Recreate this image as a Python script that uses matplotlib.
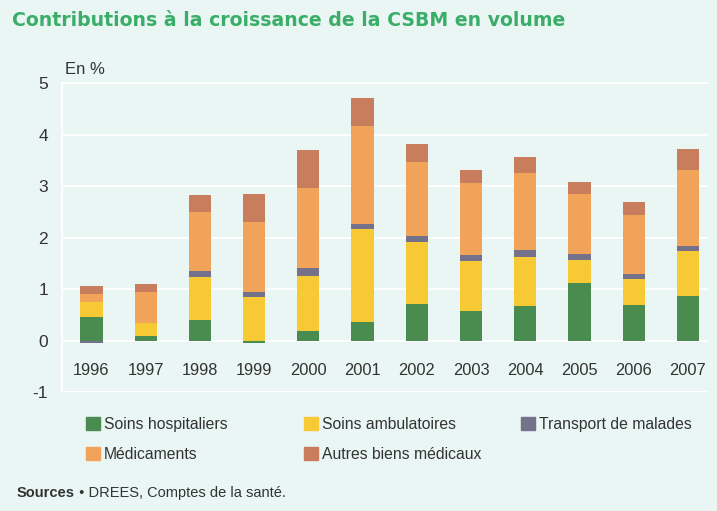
"""Contributions à la croissance de la CSBM en volume (stacked bars)."""

import matplotlib
matplotlib.use("Agg")
import matplotlib.pyplot as plt
import numpy as np
from matplotlib.patches import Patch

years = ["1996", "1997", "1998", "1999", "2000", "2001",
         "2002", "2003", "2004", "2005", "2006", "2007"]

# contributions in percentage points
hospitaliers = [0.46, 0.08, 0.39, -0.05, 0.19, 0.35, 0.71, 0.58, 0.67, 1.12, 0.68, 0.86]
ambulatoires = [0.28, 0.26, 0.84, 0.84, 1.07, 1.81, 1.20, 0.97, 0.96, 0.45, 0.51, 0.88]
transport = [-0.05, 0.00, 0.11, 0.11, 0.14, 0.11, 0.12, 0.11, 0.12, 0.10, 0.11, 0.09]
medicaments = [0.16, 0.60, 1.16, 1.35, 1.57, 1.89, 1.44, 1.40, 1.50, 1.18, 1.14, 1.49]
autres = [0.16, 0.16, 0.33, 0.54, 0.72, 0.55, 0.34, 0.26, 0.31, 0.23, 0.24, 0.39]

series = [
    ("Soins hospitaliers", hospitaliers, "#4a8b50"),
    ("Soins ambulatoires", ambulatoires, "#f6c935"),
    ("Transport de malades", transport, "#74728a"),
    ("Médicaments", medicaments, "#f2a35a"),
    ("Autres biens médicaux", autres, "#c87d5c"),
]

BG = "#e9f6f4"
TXT = "#333333"
FONT = "Liberation Sans"

fig = plt.figure(figsize=(7.17, 5.11), dpi=100, facecolor=BG)
ax = fig.add_axes([62 / 717, 119 / 511, 646 / 717, 309 / 511], facecolor=BG)

x = np.arange(len(years))
pos = np.zeros(len(years))
neg = np.zeros(len(years))
handles = {}
for label, vals, color in series:
    v = np.array(vals)
    bottom = np.where(v >= 0, pos, neg)
    ax.bar(x, v, width=0.41, bottom=bottom, color=color, zorder=3)
    pos += np.where(v >= 0, v, 0)
    neg += np.where(v < 0, v, 0)
    handles[label] = Patch(color=color)

ax.set_xlim(-0.544, 11.37)
ax.set_ylim(-1, 5)
ax.set_yticks(range(-1, 6))
ax.set_yticklabels([str(t) for t in range(-1, 6)], family=FONT,
                   fontsize=12.5, color=TXT)
ax.tick_params(axis="y", length=0, pad=10)
ax.set_xticks([])
ax.grid(axis="y", color="white", linewidth=1.4, zorder=0)
for side in ["right", "bottom"]:
    ax.spines[side].set_visible(False)
for side in ["left", "top"]:
    ax.spines[side].set_color("white")
    ax.spines[side].set_linewidth(1.4)

for xi, yr in zip(x, years):
    ax.text(xi, -0.58, yr, ha="center", va="center", family=FONT,
            fontsize=11.8, color=TXT)

ax.text(0.005, 1.045, "En %", transform=ax.transAxes, ha="left", va="center",
        family=FONT, fontsize=12, color=TXT)

fig.text(12 / 717, 1 - 20 / 511, "Contributions à la croissance de la CSBM en volume",
         ha="left", va="center", fontsize=13.6, fontweight="bold", color="#3aae68")

# legend: three evenly spaced columns
columns = [["Soins hospitaliers", "Médicaments"],
           ["Soins ambulatoires", "Autres biens médicaux"],
           ["Transport de malades"]]
for i, col in enumerate(columns):
    fig.legend([handles[c] for c in col], col, loc="upper left",
               bbox_to_anchor=((86 + 217.5 * i) / 717, 1 - 417 / 511),
               frameon=False, borderpad=0, borderaxespad=0,
               handlelength=0.9, handleheight=0.9, handletextpad=0.25,
               labelspacing=0.95, prop={"family": FONT, "size": 11.3},
               labelcolor=TXT)

src = fig.text(17 / 717, 1 - 493 / 511, "Sources", ha="left", va="center",
               fontsize=10.5, fontweight="bold", color=TXT, family=FONT)
rest = fig.text(0, 1 - 493 / 511, " • DREES, Comptes de la santé.", ha="left",
                va="center", fontsize=10.5, color=TXT, family=FONT)
fig.canvas.draw()
bb = src.get_window_extent()
rest.set_x(bb.x1 / fig.bbox.width)

fig.savefig("out.png", dpi=100, facecolor=BG)
